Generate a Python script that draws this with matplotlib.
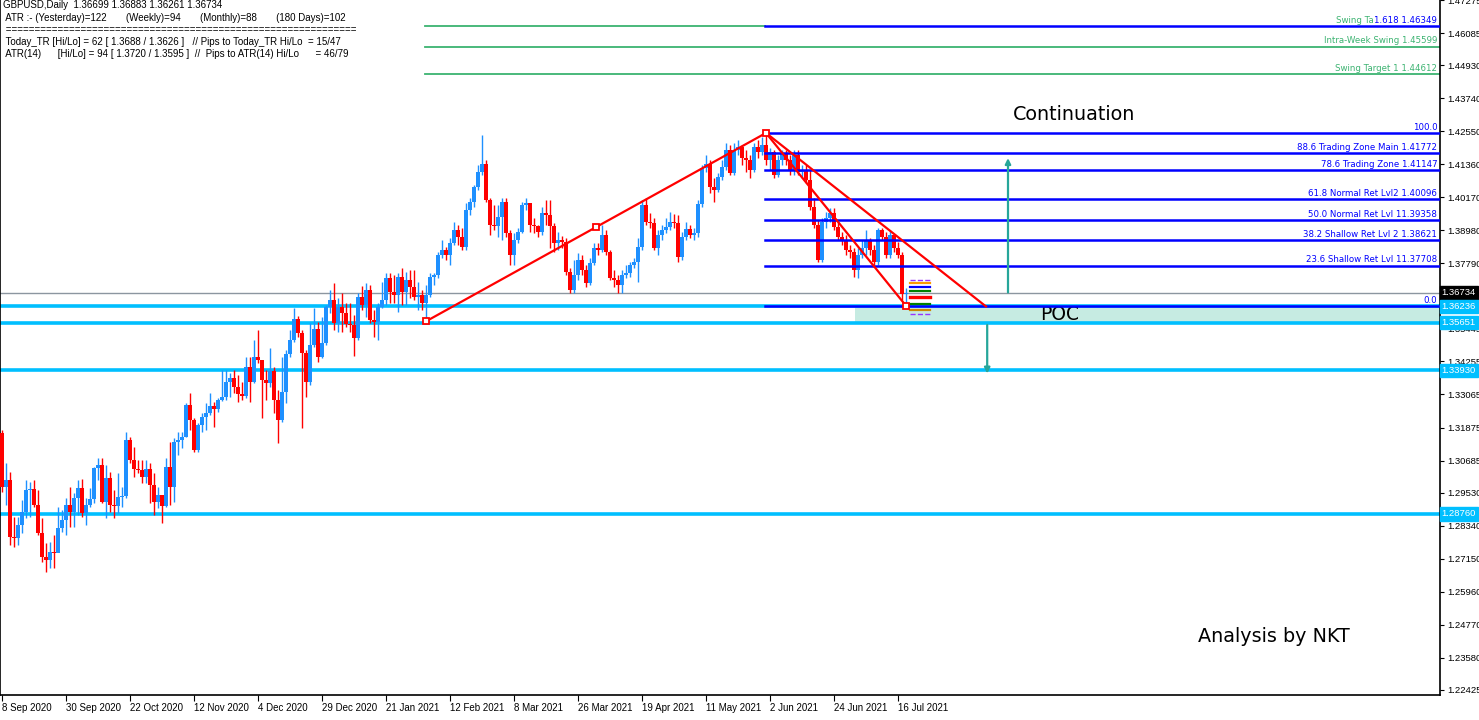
import numpy as np
import matplotlib
matplotlib.use("Agg")
import matplotlib.pyplot as plt

# ── data (GBPUSD daily) ─────────────────────────────────────────────────
first_open = 1.3167
close = [1.2973, 1.2998, 1.2793, 1.2789, 1.2836, 1.2883, 1.2962, 1.2966, 1.2908, 1.2807,
         1.2721, 1.2710, 1.2739, 1.2735, 1.2825, 1.2854, 1.2908, 1.2883, 1.2934, 1.2970,
         1.2879, 1.2908, 1.2930, 1.3041, 1.3052, 1.2919, 1.3005, 1.2908, 1.2904, 1.2937,
         1.2940, 1.3142, 1.3070, 1.3038, 1.3034, 1.3009, 1.3038, 1.2980, 1.2919, 1.2944,
         1.2904, 1.3045, 1.2973, 1.3135, 1.3142, 1.3153, 1.3268, 1.3214, 1.3106, 1.3196,
         1.3225, 1.3239, 1.3264, 1.3254, 1.3286, 1.3297, 1.3351, 1.3365, 1.3333, 1.3308,
         1.3300, 1.3405, 1.3351, 1.3441, 1.3430, 1.3358, 1.3347, 1.3390, 1.3286, 1.3214,
         1.3315, 1.3452, 1.3502, 1.3578, 1.3527, 1.3455, 1.3351, 1.3484, 1.3542, 1.3441,
         1.3491, 1.3621, 1.3646, 1.3563, 1.3621, 1.3599, 1.3560, 1.3556, 1.3509, 1.3657,
         1.3628, 1.3682, 1.3574, 1.3567, 1.3621, 1.3646, 1.3725, 1.3675, 1.3664, 1.3729,
         1.3675, 1.3718, 1.3693, 1.3657, 1.3664, 1.3635, 1.3664, 1.3729, 1.3736, 1.3808,
         1.3826, 1.3808, 1.3851, 1.3898, 1.3873, 1.3837, 1.3970, 1.3999, 1.4053, 1.4107,
         1.4136, 1.4006, 1.3916, 1.3912, 1.3945, 1.3999, 1.3887, 1.3808, 1.3862, 1.3891,
         1.3988, 1.3995, 1.3916, 1.3912, 1.3891, 1.3959, 1.3952, 1.3912, 1.3851, 1.3862,
         1.3855, 1.3747, 1.3682, 1.3736, 1.3790, 1.3754, 1.3707, 1.3779, 1.3833, 1.3826,
         1.3880, 1.3819, 1.3725, 1.3718, 1.3700, 1.3736, 1.3743, 1.3772, 1.3783, 1.3837,
         1.3988, 1.3927, 1.3923, 1.3833, 1.3880, 1.3898, 1.3909, 1.3927, 1.3923, 1.3801,
         1.3873, 1.3902, 1.3880, 1.3887, 1.3992, 1.4121, 1.4136, 1.4053, 1.4042, 1.4089,
         1.4125, 1.4186, 1.4103, 1.4186, 1.4197, 1.4157, 1.4150, 1.4114, 1.4197, 1.4179,
         1.4204, 1.4150, 1.4179, 1.4096, 1.4150, 1.4175, 1.4150, 1.4114, 1.4168, 1.4107,
         1.4114, 1.4078, 1.3981, 1.3916, 1.3790, 1.3927, 1.3941, 1.3959, 1.3909, 1.3873,
         1.3862, 1.3826, 1.3819, 1.3754, 1.3808, 1.3833, 1.3862, 1.3826, 1.3783, 1.3898,
         1.3873, 1.3808, 1.3880, 1.3833, 1.3808, 1.36699, 1.36734]
high = [1.3178, 1.3059, 1.3027, 1.2865, 1.2865, 1.2926, 1.2998, 1.2991, 1.2998, 1.2962,
        1.2861, 1.2771, 1.2775, 1.2800, 1.2901, 1.2890, 1.2934, 1.2973, 1.2951, 1.2998,
        1.3002, 1.2934, 1.2970, 1.3045, 1.3077, 1.3077, 1.3052, 1.3027, 1.2962, 1.3023,
        1.2973, 1.3171, 1.3153, 1.3117, 1.3070, 1.3070, 1.3070, 1.3059, 1.3023, 1.2973,
        1.2937, 1.3077, 1.3135, 1.3149, 1.3171, 1.3171, 1.3275, 1.3311, 1.3221, 1.3203,
        1.3239, 1.3275, 1.3311, 1.3279, 1.3293, 1.3394, 1.3394, 1.3383, 1.3394, 1.3376,
        1.3351, 1.3441, 1.3441, 1.3502, 1.3538, 1.3419, 1.3394, 1.3473, 1.3405, 1.3322,
        1.3441, 1.3466, 1.3538, 1.3617, 1.3588, 1.3538, 1.3466, 1.3563, 1.3617, 1.3567,
        1.3585, 1.3628, 1.3682, 1.3707, 1.3653, 1.3671, 1.3635, 1.3635, 1.3592, 1.3671,
        1.3696, 1.3707, 1.3700, 1.3610, 1.3635, 1.3711, 1.3743, 1.3743, 1.3736, 1.3743,
        1.3761, 1.3747, 1.3754, 1.3754, 1.3711, 1.3682, 1.3700, 1.3743, 1.3743, 1.3819,
        1.3862, 1.3837, 1.3869, 1.3927, 1.3916, 1.3905, 1.3995, 1.4013, 1.4060, 1.4132,
        1.4240, 1.4150, 1.4013, 1.3988, 1.3988, 1.4013, 1.4013, 1.3898, 1.3887, 1.3905,
        1.3999, 1.4013, 1.3995, 1.3941, 1.3916, 1.3981, 1.4006, 1.4006, 1.3923, 1.3891,
        1.3876, 1.3869, 1.3761, 1.3790, 1.3815, 1.3808, 1.3772, 1.3797, 1.3851, 1.3851,
        1.3916, 1.3898, 1.3826, 1.3754, 1.3736, 1.3754, 1.3772, 1.3783, 1.3797, 1.3869,
        1.4006, 1.4013, 1.3959, 1.3941, 1.3898, 1.3916, 1.3941, 1.3963, 1.3956, 1.3952,
        1.3891, 1.3927, 1.3916, 1.3905, 1.4006, 1.4132, 1.4168, 1.4150, 1.4085, 1.4103,
        1.4150, 1.4211, 1.4204, 1.4211, 1.4222, 1.4204, 1.4186, 1.4168, 1.4211, 1.4222,
        1.4233, 1.42485, 1.4193, 1.4186, 1.4168, 1.4186, 1.4186, 1.4168, 1.4186, 1.4186,
        1.4132, 1.4132, 1.4114, 1.4013, 1.3934, 1.3941, 1.3963, 1.3977, 1.3977, 1.3927,
        1.3891, 1.3880, 1.3844, 1.3833, 1.3833, 1.3862, 1.3898, 1.3869, 1.3844, 1.3905,
        1.3905, 1.3891, 1.3898, 1.3880, 1.3855, 1.3819, 1.36883]
low = [1.2955, 1.2908, 1.2764, 1.2757, 1.2764, 1.2807, 1.2861, 1.2865, 1.2901, 1.2800,
       1.2703, 1.2667, 1.2681, 1.2681, 1.2739, 1.2811, 1.2800, 1.2829, 1.2829, 1.2872,
       1.2865, 1.2836, 1.2901, 1.2915, 1.2998, 1.2915, 1.2861, 1.2883, 1.2861, 1.2879,
       1.2901, 1.2934, 1.3059, 1.3009, 1.3023, 1.2987, 1.2987, 1.2915, 1.2872, 1.2897,
       1.2843, 1.2901, 1.2908, 1.2919, 1.3088, 1.3113, 1.3153, 1.3178, 1.3099, 1.3099,
       1.3171, 1.3178, 1.3232, 1.3189, 1.3243, 1.3282, 1.3286, 1.3297, 1.3311, 1.3279,
       1.3286, 1.3293, 1.3279, 1.3347, 1.3419, 1.3221, 1.3286, 1.3333, 1.3239, 1.3131,
       1.3207, 1.3275, 1.3441, 1.3495, 1.3513, 1.3185, 1.3297, 1.3340, 1.3477, 1.3423,
       1.3437, 1.3484, 1.3599, 1.3538, 1.3531, 1.3531, 1.3549, 1.3531, 1.3444, 1.3502,
       1.3610, 1.3585, 1.3563, 1.3513, 1.3502, 1.3617, 1.3628, 1.3635, 1.3635, 1.3603,
       1.3628, 1.3628, 1.3653, 1.3646, 1.3610, 1.3610, 1.3570, 1.3657, 1.3700, 1.3725,
       1.3797, 1.3790, 1.3772, 1.3844, 1.3844, 1.3826, 1.3826, 1.3952, 1.3981, 1.4042,
       1.4096, 1.3999, 1.3880, 1.3898, 1.3873, 1.3862, 1.3873, 1.3772, 1.3772, 1.3851,
       1.3887, 1.3970, 1.3891, 1.3887, 1.3873, 1.3880, 1.3916, 1.3833, 1.3819, 1.3826,
       1.3833, 1.3736, 1.3671, 1.3671, 1.3718, 1.3736, 1.3693, 1.3700, 1.3772, 1.3808,
       1.3819, 1.3808, 1.3718, 1.3693, 1.3671, 1.3671, 1.3725, 1.3729, 1.3761, 1.3711,
       1.3826, 1.3916, 1.3905, 1.3826, 1.3808, 1.3862, 1.3887, 1.3898, 1.3905, 1.3783,
       1.3790, 1.3862, 1.3869, 1.3862, 1.3873, 1.3981, 1.4107, 1.4031, 1.3999, 1.4035,
       1.4078, 1.4114, 1.4096, 1.4096, 1.4168, 1.4132, 1.4107, 1.4085, 1.4107, 1.4157,
       1.4168, 1.4132, 1.4114, 1.4085, 1.4089, 1.4132, 1.4132, 1.4096, 1.4096, 1.4096,
       1.4085, 1.4067, 1.3970, 1.3905, 1.3783, 1.3783, 1.3905, 1.3927, 1.3898, 1.3862,
       1.3844, 1.3808, 1.3797, 1.3729, 1.3725, 1.3797, 1.3808, 1.3808, 1.3772, 1.3772,
       1.3862, 1.3797, 1.3797, 1.3819, 1.3797, 1.3646, 1.36261]

date_labels = ["8 Sep 2020", "30 Sep 2020", "22 Oct 2020", "12 Nov 2020", "4 Dec 2020",
               "29 Dec 2020", "21 Jan 2021", "12 Feb 2021", "8 Mar 2021", "26 Mar 2021",
               "19 Apr 2021", "11 May 2021", "2 Jun 2021", "24 Jun 2021", "16 Jul 2021"]
bars_per_label = 16

price_ticks = [1.47275, 1.46085, 1.44930, 1.43740, 1.42550, 1.41360, 1.40170, 1.38980,
               1.37790, 1.35445, 1.34255, 1.33065, 1.31875, 1.30685, 1.29530, 1.28340,
               1.27150, 1.25960, 1.24770, 1.23580, 1.22425]

# support / resistance lines
sr_levels = [1.36236, 1.35651, 1.33930, 1.28760]
last_price = 1.36734

# fibonacci (swing high -> swing low)
fib_high, fib_low = 1.42485, 1.36236
fib_levels = [100.0, 88.6, 78.6, 61.8, 50.0, 38.2, 23.6, 0.0]
fib_names = ["100.0", "88.6 Trading Zone Main 1.41772", "78.6 Trading Zone 1.41147",
             "61.8 Normal Ret Lvl2 1.40096", "50.0 Normal Ret Lvl 11.39358",
             "38.2 Shallow Ret Lvl 2 1.38621", "23.6 Shallow Ret Lvl 11.37708", "0.0"]
swing_levels = [1.46349, 1.45599, 1.44612]
swing_names = ["Swing Ta", "Intra-Week Swing 1.45599", "Swing Target 1 1.44612"]

# trend line anchors (bar index, price)
up_low = (106, 1.3570)
top = (191, 1.42485)
last_low = (226, 1.36261)
chan_end = (246, 1.36236)

# ATR / range markers next to the last bar
atr_marks = [1.3720, 1.3707, 1.3693, 1.3681, 1.3658, 1.3634, 1.3610, 1.3595]
atr_cols = ["#9933ff", "#ff9900", "#0000ff", "#008000", "#ff0000", "#008000", "#cc8800", "#9933ff"]

header = ["GBPUSD,Daily  1.36699 1.36883 1.36261 1.36734",
          " ATR :- (Yesterday)=122       (Weekly)=94       (Monthly)=88       (180 Days)=102",
          " " + "=" * 61,
          " Today_TR [Hi/Lo] = 62 [ 1.3688 / 1.3626 ]   // Pips to Today_TR Hi/Lo  = 15/47",
          " ATR(14)      [Hi/Lo] = 94 [ 1.3720 / 1.3595 ]  //  Pips to ATR(14) Hi/Lo      = 46/79"]

# ── figure ──────────────────────────────────────────────────────────────
W, H = 1479, 720
small = "Liberation Sans"
fig = plt.figure(figsize=(W / 100, H / 100), dpi=100)
ax = fig.add_axes([0, 25 / H, 1440 / W, 695 / H])
ax.set_xlim(-0.5, 359.5)
ax.set_ylim(1.2224, 1.4726)

close = np.array(close)
high = np.array(high)
low = np.array(low)
opn = np.r_[first_open, close[:-1]]
x = np.arange(len(close))
up = close >= opn

# POC zone
ax.fill_between([213.3, 359.5], sr_levels[1], sr_levels[0], color="#c6ebe2", zorder=1, lw=0)

# candles
cols = np.where(up, "#1e90ff", "#ff0000")
ax.vlines(x, low, high, colors=cols, lw=1, zorder=3)
body_lo = np.minimum(opn, close)
body_h = np.maximum(np.abs(close - opn), 0.00012)
ax.bar(x, body_h, bottom=body_lo, width=0.8, color=cols, lw=0, zorder=4)

# horizontal levels
ax.axhline(last_price, color="#8c96a0", lw=1, zorder=2)
for lv in sr_levels:
    ax.axhline(lv, color="#00bfff", lw=2.6, zorder=2)

fib_start = top[0] - 0.25
for lvl, name in zip(fib_levels, fib_names):
    p = fib_low + (fib_high - fib_low) * lvl / 100
    ax.plot([fib_start, 359.5], [p, p], color="#0000ff", lw=1.8, zorder=5)
    ax.text(358.8, p + 0.0004, name, color="#0000ff", fontsize=6.2, ha="right", va="bottom", zorder=6)

for k, (lv, name) in enumerate(zip(swing_levels, swing_names)):
    ax.plot([up_low[0] - 0.25, 359.5 if k else fib_start], [lv, lv], color="#3cb371", lw=1.3, zorder=2)
    xr = 343 if k == 0 else 358.8
    ax.text(xr, lv + 0.0004, name, color="#3cb371", fontsize=6.2, ha="right", va="bottom")
ax.plot([fib_start, 359.5], [swing_levels[0]] * 2, color="#0000ff", lw=1.8, zorder=5)
ax.text(358.8, swing_levels[0] + 0.0004, "1.618 1.46349", color="#0000ff", fontsize=6.2,
        ha="right", va="bottom")

# red trend lines
ax.plot([up_low[0], top[0]], [up_low[1], top[1]], color="#ff0000", lw=1.6, zorder=6)
ax.plot([top[0], last_low[0]], [top[1], last_low[1]], color="#ff0000", lw=1.6, zorder=6)
ax.plot([top[0], chan_end[0]], [top[1], chan_end[1]], color="#ff0000", lw=1.6, zorder=6)
mid = ((up_low[0] + top[0]) / 2, (up_low[1] + top[1]) / 2)
for px, py in [up_low, mid, top, last_low]:
    ax.plot(px, py, marker="s", ms=4.5, mfc="white", mec="#ff0000", mew=1.3, zorder=7)

# range markers
for lv, c in zip(atr_marks, atr_cols):
    ls = "--" if c == "#9933ff" else "-"
    lw = 1.0 if ls == "--" else (2.4 if c == "#ff0000" else 1.6)
    ax.plot([227, 232], [lv, lv], color=c, lw=lw, ls=ls, zorder=6)

# arrows
ax.annotate("", xy=(251.5, 1.4168), xytext=(251.5, 1.3664),
            arrowprops=dict(arrowstyle="-|>", color="#26a69a", lw=1.6, mutation_scale=8), zorder=6)
ax.annotate("", xy=(246.3, 1.3372), xytext=(246.3, 1.3567),
            arrowprops=dict(arrowstyle="-|>", color="#26a69a", lw=1.6, mutation_scale=8), zorder=6)

ax.text(268, 1.4316, "Continuation", fontsize=13.8, ha="center", va="center")
ax.text(264.5, 1.3594, "POC", fontsize=13.5, ha="center", va="center")
ax.text(318, 1.2436, "Analysis by NKT", fontsize=13.8, ha="center", va="center")

# axes styling
ax.spines["top"].set_visible(False)
for s in ["left", "right", "bottom"]:
    ax.spines[s].set_color("black")
    ax.spines[s].set_linewidth(1.2)

ax.yaxis.tick_right()
ax.set_yticks(price_ticks)
ax.set_yticklabels([f"{p:.5f}" for p in price_ticks], fontsize=6.8, family=small)
ax.tick_params(axis="y", length=3, pad=2)

ax.set_xticks(np.arange(len(date_labels)) * bars_per_label)
ax.set_xticklabels(date_labels, fontsize=7, ha="left", family=small)
ax.tick_params(axis="x", length=4, pad=2)

# price boxes on right axis
def price_box(p, bg):
    ax.text(1.0012, p, f"{p:.5f}", transform=ax.get_yaxis_transform(), fontsize=6.8,
            family=small, color="white", ha="left", va="center", zorder=10, clip_on=False,
            bbox=dict(boxstyle="square,pad=0.22", fc=bg, ec=bg))

price_box(last_price, "black")
for lv in sr_levels:
    price_box(lv, "#00bfff")

# indicator text top-left
ys = [5, 18, 30, 42, 54]
for t, yy in zip(header, ys):
    fig.text(3 / W, 1 - yy / H, t, fontsize=7, family=small, ha="left", va="center")

fig.savefig("out.png", dpi=100)
